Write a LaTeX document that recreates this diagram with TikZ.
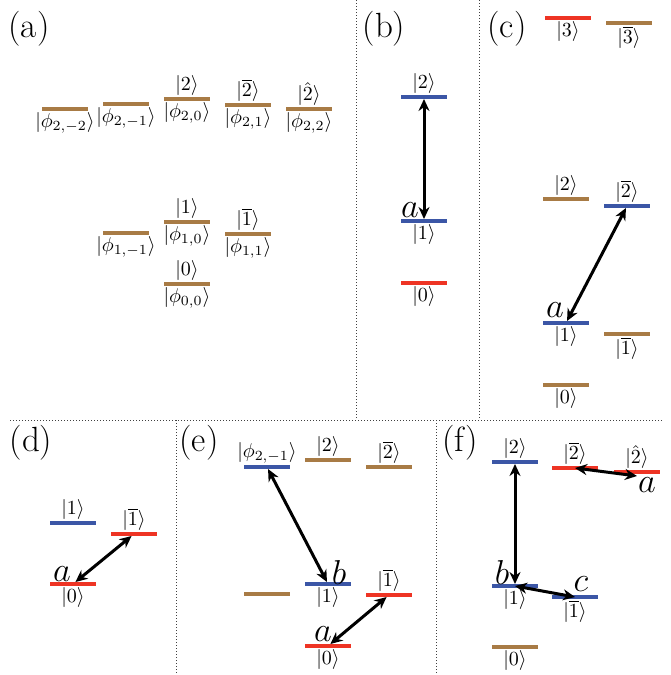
\documentclass[tikz,border=0pt]{standalone}
\usetikzlibrary{arrows.meta}
\definecolor{lvlbrown}{RGB}{168,123,69}
\definecolor{lvlblue}{RGB}{59,86,166}
\definecolor{lvlred}{RGB}{238,52,36}
\begin{document}
\begin{tikzpicture}[x=0.5pt,y=-0.5pt,
  lvl/.style={minimum width=23pt, minimum height=2pt, inner sep=0pt, outer sep=0pt, draw=none, fill=#1},
  lab/.style={inner sep=0.6pt, font=\normalsize},
  plabel/.style={font=\fontsize{17.5}{21}\selectfont, inner sep=0pt},
  letter/.style={font=\fontsize{18}{21}\selectfont, inner sep=0pt},
  divider/.style={densely dotted, line width=0.5pt, black!75},
  conn/.style={{Stealth[length=6pt,width=5.5pt]}-{Stealth[length=6pt,width=5.5pt]}, line width=1.5pt}
]
\useasboundingbox (0,0) rectangle (670,675);
% dividers
\coordinate (v1t) at (356,0);   \coordinate (v1b) at (356,420);
\coordinate (v2t) at (479,0);   \coordinate (v2b) at (479,420);
\coordinate (hl) at (10,420);   \coordinate (hr) at (662,420);
\coordinate (v3t) at (176,420); \coordinate (v3b) at (176,675);
\coordinate (v4t) at (436,420); \coordinate (v4b) at (436,675);
\draw[divider] (v1t) -- (v1b);
\draw[divider] (v2t) -- (v2b);
\draw[divider] (hl) -- (hr);
\draw[divider] (v3t) -- (v3b);
\draw[divider] (v4t) -- (v4b);

% panel labels
\node[plabel] (la) at (29,29) {(a)};
\node[plabel] (lb) at (384,29) {(b)};
\node[plabel] (lc) at (507,29) {(c)};
\node[plabel] (ld) at (31,443) {(d)};
\node[plabel] (le) at (199,443) {(e)};
\node[plabel] (lf) at (460,443) {(f)};

% panel (a)
\node[lvl=lvlbrown, label={[lab]below:$|\phi_{2,-2}\rangle$}] (a22m) at (65,109) {};
\node[lvl=lvlbrown, label={[lab]below:$|\phi_{2,-1}\rangle$}] (a21m) at (126,104) {};
\node[lvl=lvlbrown, label={[lab]above:$|2\rangle$}, label={[lab]below:$|\phi_{2,0}\rangle$}] (a20) at (187,99) {};
\node[lvl=lvlbrown, label={[lab]above:$|\overline{2}\rangle$}, label={[lab]below:$|\phi_{2,1}\rangle$}] (a21) at (248,105) {};
\node[lvl=lvlbrown, label={[lab]above:$|\hat{2}\rangle$}, label={[lab]below:$|\phi_{2,2}\rangle$}] (a22) at (309,109) {};
\node[lvl=lvlbrown, label={[lab]below:$|\phi_{1,-1}\rangle$}] (a11m) at (126,233) {};
\node[lvl=lvlbrown, label={[lab]above:$|1\rangle$}, label={[lab]below:$|\phi_{1,0}\rangle$}] (a10) at (187,222) {};
\node[lvl=lvlbrown, label={[lab]above:$|\overline{1}\rangle$}, label={[lab]below:$|\phi_{1,1}\rangle$}] (a11) at (248,234) {};
\node[lvl=lvlbrown, label={[lab]above:$|0\rangle$}, label={[lab]below:$|\phi_{0,0}\rangle$}] (a00) at (187,284) {};

% panel (b)
\node[lvl=lvlblue, label={[lab]above:$|2\rangle$}] (b2) at (424,97) {};
\node[lvl=lvlblue, label={[lab]below:$|1\rangle$}] (b1) at (424,221) {};
\node[lvl=lvlred, label={[lab]below:$|0\rangle$}] (b0) at (424,283) {};
\node[letter] (ba) at (410,210) {$a$};
\draw[conn] (b2) -- (b1);

% panel (c)
\node[lvl=lvlred, label={[lab]below:$|3\rangle$}] (c3) at (568,18) {};
\node[lvl=lvlbrown, label={[lab]below:$|\overline{3}\rangle$}] (c3b) at (629,23) {};
\node[lvl=lvlbrown, label={[lab]above:$|2\rangle$}] (c2) at (566,199) {};
\node[lvl=lvlblue, label={[lab]above:$|\overline{2}\rangle$}] (c2b) at (627,206) {};
\node[lvl=lvlblue, label={[lab]below:$|1\rangle$}] (c1) at (566,323) {};
\node[lvl=lvlbrown, label={[lab]below:$|\overline{1}\rangle$}] (c1b) at (627,334) {};
\node[lvl=lvlbrown, label={[lab]below:$|0\rangle$}] (c0) at (566,385) {};
\node[letter] (ca) at (555,310) {$a$};
\draw[conn] (c2b) -- (c1);

% panel (d)
\node[lvl=lvlblue, label={[lab]above:$|1\rangle$}] (d1) at (73,523) {};
\node[lvl=lvlred, label={[lab]above:$|\overline{1}\rangle$}] (d1b) at (134,534) {};
\node[lvl=lvlred, label={[lab]below:$|0\rangle$}] (d0) at (73,584) {};
\node[letter] (da) at (62,574) {$a$};
\draw[conn] (d1b) -- (d0);

% panel (e)
\node[lvl=lvlblue, label={[lab]above:$|\phi_{2,-1}\rangle$}] (e21m) at (267,467) {};
\node[lvl=lvlbrown, label={[lab]above:$|2\rangle$}] (e2) at (328,460) {};
\node[lvl=lvlbrown, label={[lab]above:$|\overline{2}\rangle$}] (e2b) at (389,467) {};
\node[lvl=lvlbrown] (ex) at (267,594) {};
\node[lvl=lvlblue, label={[lab]below:$|1\rangle$}] (e1) at (328,584) {};
\node[lvl=lvlred, label={[lab]above:$|\overline{1}\rangle$}] (e1b) at (389,595) {};
\node[lvl=lvlred, label={[lab]below:$|0\rangle$}] (e0) at (328,646) {};
\node[letter] (eb) at (339,572) {$b$};
\node[letter] (ea) at (323,634) {$a$};
\draw[conn] (e21m) -- (e1);
\draw[conn] (e1b) -- (e0);

% panel (f)
\node[lvl=lvlblue, label={[lab]above:$|2\rangle$}] (f2) at (515,462) {};
\node[lvl=lvlred, label={[lab]above:$|\overline{2}\rangle$}] (f2b) at (575,468) {};
\node[lvl=lvlred, label={[lab]above:$|\hat{2}\rangle$}] (f2h) at (637,472) {};
\node[lvl=lvlblue, label={[lab]below:$|1\rangle$}] (f1) at (515,586) {};
\node[lvl=lvlblue, label={[lab]below:$|\overline{1}\rangle$}] (f1b) at (575,597) {};
\node[lvl=lvlbrown, label={[lab]below:$|0\rangle$}] (f0) at (515,647) {};
\node[letter] (fa) at (647,485) {$a$};
\node[letter] (fb) at (502,572) {$b$};
\node[letter] (fc) at (581,584) {$c$};
\coordinate (f2hend) at (637,476);
\draw[conn] (f2) -- (f1);
\draw[conn] (f2b.center) -- (f2hend);
\draw[conn] (f1.center) -- (f1b.center);
\end{tikzpicture}
\end{document}
